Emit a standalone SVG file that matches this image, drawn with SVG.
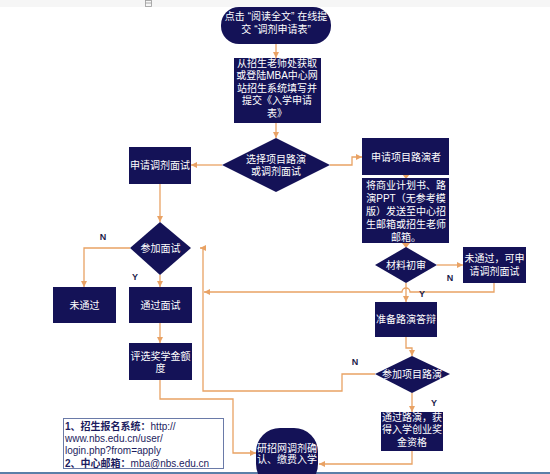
<svg xmlns="http://www.w3.org/2000/svg" width="550" height="474" viewBox="0 0 550 474">
<style>
.n{fill:#141257;}
.t{fill:#ffffff;font-family:"Liberation Sans","Noto Sans CJK SC",sans-serif;font-size:10px;text-anchor:middle;}
.c{fill:none;stroke:#e9a264;stroke-width:1.3;}
.lb{fill:#1c1c4a;font-family:"Liberation Sans",sans-serif;font-size:9px;font-weight:bold;text-anchor:middle;}
.ah{fill:#e9a264;}
.info{fill:#1c1c5e;font-family:"Liberation Sans","Noto Sans CJK SC",sans-serif;font-size:10px;}
</style>
<defs>
<marker id="arr" viewBox="0 0 8 8" refX="8" refY="4" markerWidth="6" markerHeight="6" markerUnits="userSpaceOnUse" orient="auto">
<path d="M0,0 L8,4 L0,8 z" fill="#e9a264"/>
</marker>
</defs>
<rect x="0" y="0" width="550" height="474" fill="#ffffff"/>
<rect x="0" y="0" width="550" height="7" fill="#f6f6f6"/>
<rect x="145.5" y="0.5" width="6" height="6" fill="none" stroke="#999" stroke-width="0.8"/>
<line x1="145.5" y1="3" x2="151.5" y2="3" stroke="#999" stroke-width="0.8"/>
<rect x="0" y="472" width="550" height="2" fill="#5a7fa8"/>

<g id="connectors">
<path class="c" d="M276,44 L276,58" marker-end="url(#arr)"/>
<path class="c" d="M276,123 L276,138" marker-end="url(#arr)"/>
<path class="c" d="M222,165 L191,165" marker-end="url(#arr)"/>
<path class="c" d="M330,165 L352,165 L352,157 L362,157" marker-end="url(#arr)"/>
<path class="ah" d="M402,174 L410,174 L406,179 z"/>
<path class="ah" d="M402,243 L410,243 L406,248 z"/>
<path class="c" d="M437,265 L463,265" marker-end="url(#arr)"/>
<path class="c" d="M494,283 L494,292 L410,292 A4,4 0 0 0 402,292 L204,292" marker-end="url(#arr)"/>
<path class="c" d="M406,283 L406,302" marker-end="url(#arr)"/>
<path class="c" d="M406,337 L406,348 L412,348 L412,356" marker-end="url(#arr)"/>
<path class="c" d="M375,374 L342,374 L342,391 L203,391 L203,248 L200,248" marker-end="url(#arr)"/>
<path class="c" d="M412,393 L412,412" marker-end="url(#arr)"/>
<path class="c" d="M412,451 L412,464 L319,464" marker-end="url(#arr)"/>
<path class="c" d="M160,184 L160,222" marker-end="url(#arr)"/>
<path class="c" d="M130,248 L84,248 L84,287" marker-end="url(#arr)"/>
<path class="c" d="M160,275 L160,287" marker-end="url(#arr)"/>
<path class="c" d="M160,323 L160,343" marker-end="url(#arr)"/>
<path class="c" d="M160,380 L160,399 L233,399 L233,453 L256,453" marker-end="url(#arr)"/>
<text class="lb" x="103" y="240">N</text>
<text class="lb" x="135" y="280">Y</text>
<text class="lb" x="450" y="281">N</text>
<text class="lb" x="422" y="297">Y</text>
<text class="lb" x="355" y="365">N</text>
<text class="lb" x="434" y="406">Y</text>
</g>

<g id="start">
<rect class="n" x="221" y="7" width="110" height="37" rx="18"/>
<text class="t" x="276" y="19.5">点击<tspan dx="3">“</tspan>阅读全文”<tspan dx="3">在</tspan>线提</text>
<text class="t" x="276" y="32.5">交<tspan dx="3">“</tspan>调剂申请表”</text>
</g>
<g id="fill-form">
<rect class="n" x="234" y="58" width="87" height="65"/>
<text class="t" x="277" y="66.5">从招生老师处获取</text>
<text class="t" x="277" y="79">或登陆MBA中心网</text>
<text class="t" x="277" y="91.5">站招生系统填写并</text>
<text class="t" x="277" y="104">提交《入学申请</text>
<text class="t" x="277" y="116.5">表》</text>
</g>
<g id="choose">
<polygon class="n" points="276,138 330,165 276,192 222,165"/>
<text class="t" x="276" y="162.5">选择项目路演</text>
<text class="t" x="276" y="175">或调剂面试</text>
</g>
<g id="apply-adjust">
<rect class="n" x="129" y="147" width="62" height="37"/>
<text class="t" x="160" y="169">申请调剂面试</text>
</g>
<g id="apply-roadshow">
<rect class="n" x="362" y="138" width="87" height="37"/>
<text class="t" x="406" y="160.5">申请项目路演者</text>
</g>
<g id="send-plan">
<rect class="n" x="362" y="178" width="87" height="65"/>
<text class="t" x="406" y="188.5">将商业计划书、路</text>
<text class="t" x="406" y="201.5">演PPT（无参考模</text>
<text class="t" x="406" y="215">版）发送至中心招</text>
<text class="t" x="406" y="228">生邮箱或招生老师</text>
<text class="t" x="406" y="240.5">邮箱。</text>
</g>
<g id="review">
<polygon class="n" points="406,247 437,265 406,283 375,265"/>
<text class="t" x="406" y="268.5">材料初审</text>
</g>
<g id="review-fail">
<rect class="n" x="463" y="247" width="63" height="36"/>
<text class="t" x="494.5" y="261.5">未通过，可申</text>
<text class="t" x="494.5" y="274.5">请调剂面试</text>
</g>
<g id="prepare">
<rect class="n" x="375" y="302" width="62" height="35"/>
<text class="t" x="406" y="323">准备路演答辩</text>
</g>
<g id="join-roadshow">
<polygon class="n" points="412,356 450,374 412,393 375,374"/>
<text class="t" x="412" y="377.5">参加项目路演</text>
</g>
<g id="roadshow-pass">
<rect class="n" x="381" y="412" width="62" height="39"/>
<text class="t" x="412" y="420.5">通过路演，获</text>
<text class="t" x="412" y="433">得入学创业奖</text>
<text class="t" x="412" y="446">金资格</text>
</g>
<g id="confirm">
<rect class="n" x="256" y="428" width="62" height="60" rx="24"/>
<text class="t" x="287" y="451.5" font-size="9.6">研招网调剂确</text>
<text class="t" x="287" y="463" font-size="9.6">认、缴费入学</text>
</g>
<g id="interview">
<polygon class="n" points="160,222 191,248 160,275 130,248"/>
<text class="t" x="160.5" y="251.5">参加面试</text>
</g>
<g id="fail">
<rect class="n" x="53" y="287" width="63" height="36"/>
<text class="t" x="84.5" y="308.5">未通过</text>
</g>
<g id="pass">
<rect class="n" x="129" y="287" width="63" height="36"/>
<text class="t" x="160.5" y="308.5">通过面试</text>
</g>
<g id="scholarship">
<rect class="n" x="129" y="343" width="63" height="37"/>
<text class="t" x="160.5" y="359.5">评选奖学金额</text>
<text class="t" x="160.5" y="372">度</text>
</g>
<g id="info">
<rect x="63.5" y="418.5" width="160" height="50" fill="#ffffff" stroke="#6a7aa8" stroke-width="1"/>
<text class="info" x="65" y="430"><tspan font-weight="bold">1、招生报名系统：</tspan>http://</text>
<text class="info" x="65" y="442">www.nbs.edu.cn/user/</text>
<text class="info" x="65" y="454">login.php?from=apply</text>
<text class="info" x="65" y="466.5"><tspan font-weight="bold">2、中心邮箱：</tspan>mba@nbs.edu.cn</text>
</g>
</svg>
